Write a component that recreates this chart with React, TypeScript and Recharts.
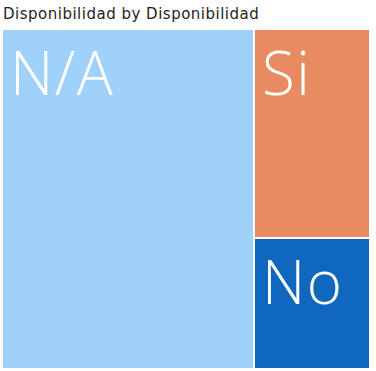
import React from 'react';
import { Treemap } from 'recharts';

const categories = ['N/A', 'Si', 'No'];
const counts = [113, 32, 20];
const palette = ['#A0D1FB', '#E98B62', '#1068BE'];
const chartTitle = 'Disponibilidad by Disponibilidad';

const data = categories.map((name, i) => ({ name, value: counts[i] }));

const CellContent = (props: any) => {
  const { x, y, width, height, depth, name } = props;
  if (depth !== 1) return null;
  const idx = categories.indexOf(name);
  return (
    <g>
      <rect x={x} y={y} width={width} height={height} fill={palette[idx]} stroke="#ffffff" strokeWidth={2} />
      <text
        x={x + 8}
        y={y + 66}
        fill="#ffffff"
        stroke="none"
        fontFamily="'Open Sans', sans-serif"
        fontWeight={300}
        fontSize={60}
        letterSpacing={1.5}
      >
        {name}
      </text>
    </g>
  );
};

export default function App() {
  return (
    <div style={{ position: 'absolute', left: 0, top: 0, width: 376, height: 371, background: '#fff', overflow: 'hidden' }}>
      <div
        style={{
          position: 'absolute',
          left: 3,
          top: 4,
          fontFamily: "'DejaVu Sans', sans-serif",
          fontSize: 15,
          letterSpacing: 0.5,
          color: '#252423',
          whiteSpace: 'nowrap',
          lineHeight: '20px',
        }}
      >
        {chartTitle}
      </div>
      <div style={{ position: 'absolute', left: 2, top: 29 }}>
        <Treemap
          width={368}
          height={340}
          data={data}
          dataKey="value"
          nameKey="name"
          isAnimationActive={false}
          content={<CellContent />}
        />
      </div>
    </div>
  );
}
